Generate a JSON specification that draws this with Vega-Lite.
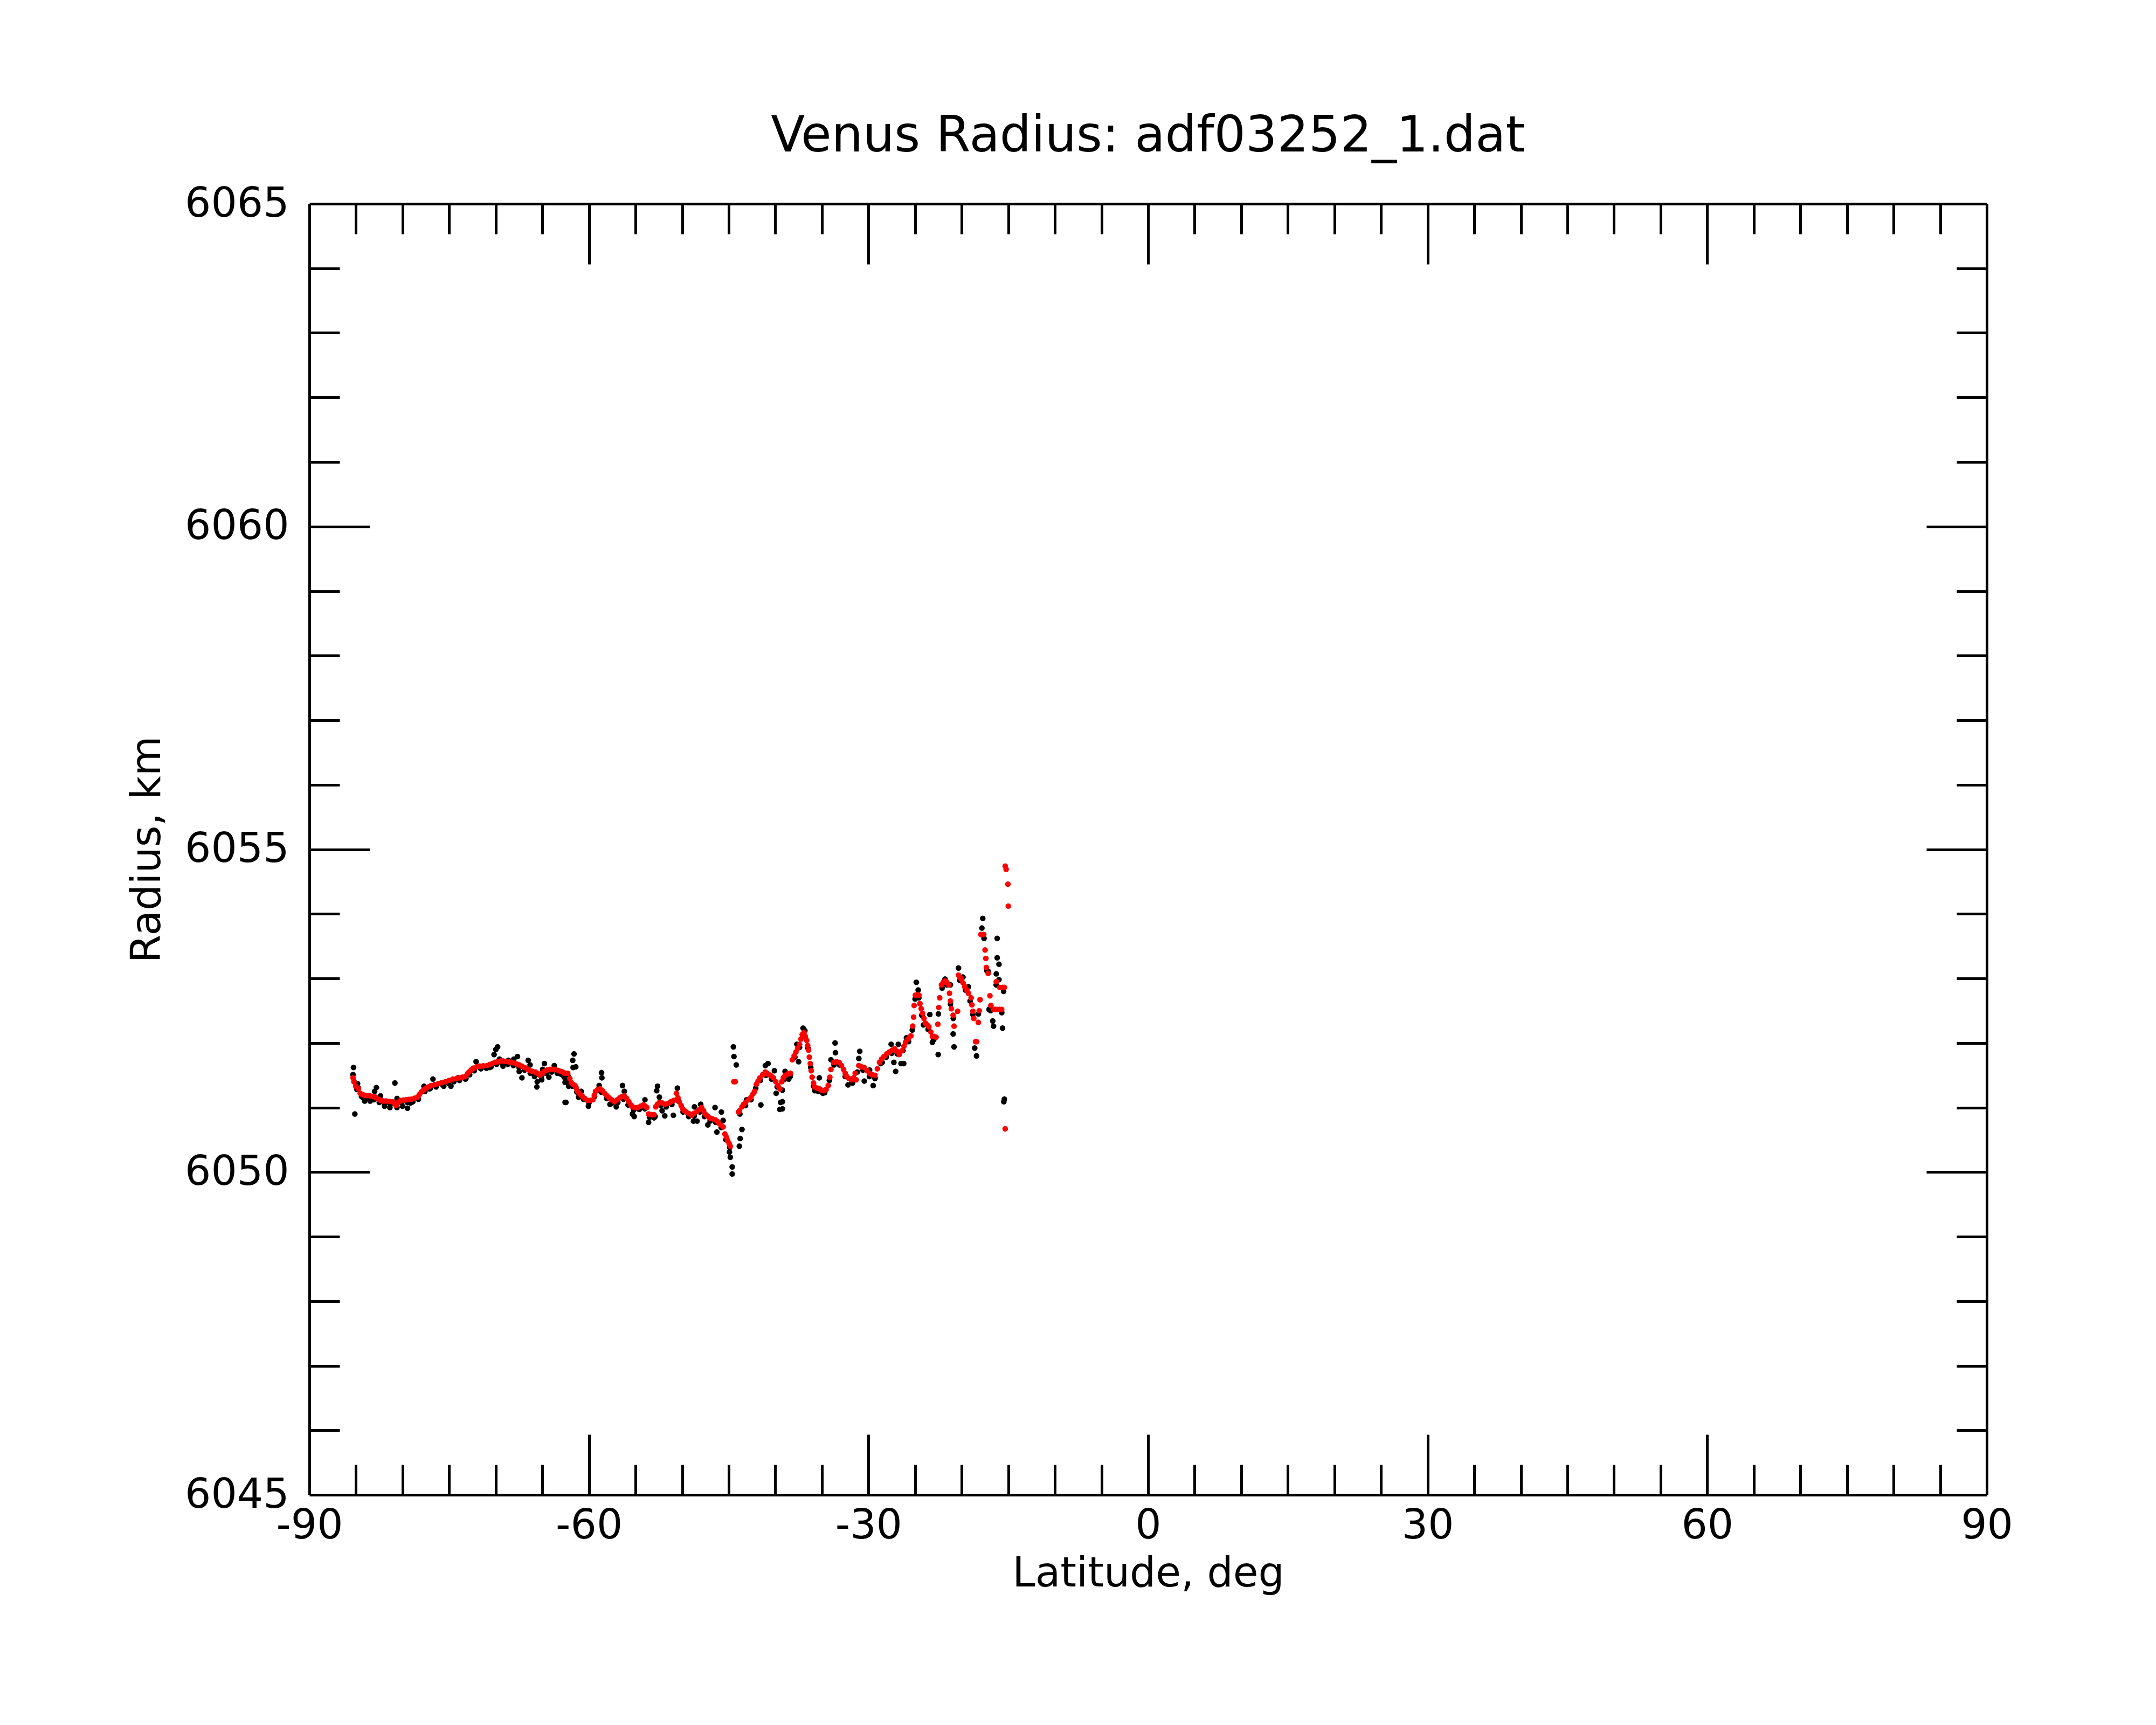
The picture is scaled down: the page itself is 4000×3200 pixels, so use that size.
{
  "$schema": "https://vega.github.io/schema/vega-lite/v6.json",
  "width": 3112,
  "height": 2395,
  "autosize": {"type": "none"},
  "padding": {"left": 574, "top": 378, "right": 314, "bottom": 427},
  "background": "white",
  "title": {
    "text": "Venus Radius: adf03252_1.dat",
    "font": "DejaVu Sans",
    "fontSize": 92,
    "fontWeight": "normal",
    "color": "black",
    "anchor": "middle",
    "frame": "group",
    "offset": 40
  },
  "config": {
    "view": {"stroke": null},
    "font": "DejaVu Sans",
    "axis": {
      "grid": false,
      "domainColor": "black",
      "domainWidth": 5,
      "tickColor": "black",
      "tickWidth": 5,
      "labelColor": "black",
      "labelFont": "DejaVu Sans",
      "labelFontSize": 76,
      "labelLimit": 0,
      "titleColor": "black",
      "titleFont": "DejaVu Sans",
      "titleFontSize": 76,
      "titleFontWeight": "normal",
      "titleLimit": 0,
      "labelFlush": false,
      "labelOverlap": false,
      "labelBound": false
    }
  },
  "datasets": {
    "black": [
      {"lat": -85.26, "radius": 6051.62}, {"lat": -85.32, "radius": 6051.51}, {"lat": -85.12, "radius": 6050.9},
      {"lat": -84.83, "radius": 6051.37}, {"lat": -84.74, "radius": 6051.3}, {"lat": -84.25, "radius": 6051.15},
      {"lat": -84.06, "radius": 6051.1}, {"lat": -83.48, "radius": 6051.1}, {"lat": -83.0, "radius": 6051.25},
      {"lat": -82.81, "radius": 6051.31}, {"lat": -82.37, "radius": 6051.18}, {"lat": -81.94, "radius": 6051.02},
      {"lat": -81.36, "radius": 6051.0}, {"lat": -80.82, "radius": 6051.38}, {"lat": -80.59, "radius": 6051.14},
      {"lat": -80.01, "radius": 6051.02}, {"lat": -79.47, "radius": 6050.99}, {"lat": -79.14, "radius": 6051.07},
      {"lat": -77.7, "radius": 6051.33}, {"lat": -77.12, "radius": 6051.29}, {"lat": -76.74, "radius": 6051.44},
      {"lat": -75.58, "radius": 6051.33}, {"lat": -74.81, "radius": 6051.33}, {"lat": -74.04, "radius": 6051.46},
      {"lat": -73.26, "radius": 6051.44}, {"lat": -72.11, "radius": 6051.71}, {"lat": -71.53, "radius": 6051.62},
      {"lat": -70.66, "radius": 6051.62}, {"lat": -70.18, "radius": 6051.82}, {"lat": -69.99, "radius": 6051.9},
      {"lat": -69.8, "radius": 6051.94}, {"lat": -69.6, "radius": 6051.75}, {"lat": -69.22, "radius": 6051.64},
      {"lat": -68.64, "radius": 6051.73}, {"lat": -68.06, "radius": 6051.75}, {"lat": -67.67, "radius": 6051.79},
      {"lat": -67.48, "radius": 6051.56}, {"lat": -67.19, "radius": 6051.46}, {"lat": -66.52, "radius": 6051.73},
      {"lat": -66.32, "radius": 6051.66}, {"lat": -65.84, "radius": 6051.48}, {"lat": -65.55, "radius": 6051.4},
      {"lat": -65.59, "radius": 6051.32}, {"lat": -65.07, "radius": 6051.43}, {"lat": -64.78, "radius": 6051.68},
      {"lat": -64.97, "radius": 6051.59}, {"lat": -64.3, "radius": 6051.47}, {"lat": -63.72, "radius": 6051.65},
      {"lat": -63.04, "radius": 6051.52}, {"lat": -62.56, "radius": 6051.39}, {"lat": -62.56, "radius": 6051.08},
      {"lat": -62.66, "radius": 6051.47}, {"lat": -62.37, "radius": 6051.4}, {"lat": -62.18, "radius": 6051.33},
      {"lat": -62.47, "radius": 6051.08}, {"lat": -61.7, "radius": 6051.62}, {"lat": -61.74, "radius": 6051.73},
      {"lat": -61.6, "radius": 6051.83}, {"lat": -61.41, "radius": 6051.63}, {"lat": -60.83, "radius": 6051.25},
      {"lat": -61.12, "radius": 6051.16}, {"lat": -60.06, "radius": 6051.02}, {"lat": -58.9, "radius": 6051.34},
      {"lat": -58.61, "radius": 6051.46}, {"lat": -58.65, "radius": 6051.54}, {"lat": -57.74, "radius": 6051.05},
      {"lat": -57.07, "radius": 6051.01}, {"lat": -56.4, "radius": 6051.34}, {"lat": -56.2, "radius": 6051.25},
      {"lat": -55.33, "radius": 6050.9}, {"lat": -55.14, "radius": 6050.86}, {"lat": -53.99, "radius": 6051.12},
      {"lat": -53.6, "radius": 6050.77}, {"lat": -53.02, "radius": 6050.84}, {"lat": -52.64, "radius": 6051.33},
      {"lat": -52.73, "radius": 6051.26}, {"lat": -52.44, "radius": 6051.16}, {"lat": -52.15, "radius": 6050.95},
      {"lat": -51.86, "radius": 6050.87}, {"lat": -50.94, "radius": 6050.88}, {"lat": -50.51, "radius": 6051.3},
      {"lat": -48.68, "radius": 6051.01}, {"lat": -48.78, "radius": 6050.79}, {"lat": -48.4, "radius": 6050.79},
      {"lat": -48.01, "radius": 6051.05}, {"lat": -47.24, "radius": 6050.73}, {"lat": -46.47, "radius": 6051.0},
      {"lat": -46.27, "radius": 6050.62}, {"lat": -45.79, "radius": 6050.93}, {"lat": -45.6, "radius": 6050.8},
      {"lat": -44.92, "radius": 6050.31}, {"lat": -44.83, "radius": 6050.23}, {"lat": -44.63, "radius": 6050.08},
      {"lat": -44.63, "radius": 6049.97}, {"lat": -44.5, "radius": 6051.94}, {"lat": -44.44, "radius": 6051.79},
      {"lat": -44.19, "radius": 6051.66}, {"lat": -43.86, "radius": 6050.4}, {"lat": -43.77, "radius": 6050.52},
      {"lat": -43.58, "radius": 6050.66}, {"lat": -43.09, "radius": 6051.12}, {"lat": -41.55, "radius": 6051.04},
      {"lat": -41.07, "radius": 6051.65}, {"lat": -40.78, "radius": 6051.68}, {"lat": -40.1, "radius": 6051.57},
      {"lat": -39.91, "radius": 6051.22}, {"lat": -39.43, "radius": 6051.08}, {"lat": -39.52, "radius": 6050.97},
      {"lat": -39.24, "radius": 6051.27}, {"lat": -39.24, "radius": 6051.09}, {"lat": -39.24, "radius": 6050.98},
      {"lat": -38.95, "radius": 6051.56}, {"lat": -38.56, "radius": 6051.44}, {"lat": -37.69, "radius": 6051.98},
      {"lat": -37.5, "radius": 6051.71}, {"lat": -37.02, "radius": 6052.23}, {"lat": -36.83, "radius": 6052.19},
      {"lat": -35.77, "radius": 6051.26}, {"lat": -35.28, "radius": 6051.46}, {"lat": -34.7, "radius": 6051.23},
      {"lat": -34.03, "radius": 6051.74}, {"lat": -33.59, "radius": 6052.0}, {"lat": -33.55, "radius": 6051.85},
      {"lat": -32.97, "radius": 6051.65}, {"lat": -32.2, "radius": 6051.35}, {"lat": -31.72, "radius": 6051.38},
      {"lat": -30.94, "radius": 6051.87}, {"lat": -31.04, "radius": 6051.76}, {"lat": -30.46, "radius": 6051.41},
      {"lat": -29.88, "radius": 6051.58}, {"lat": -29.5, "radius": 6051.34}, {"lat": -29.31, "radius": 6051.46},
      {"lat": -28.53, "radius": 6051.7}, {"lat": -27.57, "radius": 6051.98}, {"lat": -27.28, "radius": 6051.7},
      {"lat": -27.09, "radius": 6051.56}, {"lat": -26.8, "radius": 6051.98}, {"lat": -26.51, "radius": 6051.68},
      {"lat": -26.22, "radius": 6051.68}, {"lat": -25.93, "radius": 6052.08}, {"lat": -24.87, "radius": 6052.94},
      {"lat": -24.67, "radius": 6052.82}, {"lat": -24.29, "radius": 6052.43}, {"lat": -24.1, "radius": 6052.28},
      {"lat": -23.42, "radius": 6052.44}, {"lat": -23.14, "radius": 6052.01}, {"lat": -22.52, "radius": 6051.82},
      {"lat": -21.79, "radius": 6052.99}, {"lat": -21.21, "radius": 6052.9}, {"lat": -20.92, "radius": 6052.14},
      {"lat": -20.82, "radius": 6051.94}, {"lat": -20.34, "radius": 6053.16}, {"lat": -19.86, "radius": 6053.02},
      {"lat": -19.28, "radius": 6052.87}, {"lat": -18.6, "radius": 6051.92}, {"lat": -18.41, "radius": 6051.8},
      {"lat": -17.74, "radius": 6053.93}, {"lat": -17.83, "radius": 6053.78}, {"lat": -17.16, "radius": 6053.11},
      {"lat": -17.06, "radius": 6052.52}, {"lat": -16.67, "radius": 6052.34}, {"lat": -16.58, "radius": 6052.26},
      {"lat": -16.19, "radius": 6053.62}, {"lat": -16.19, "radius": 6053.32}, {"lat": -16.0, "radius": 6053.22},
      {"lat": -16.29, "radius": 6053.07}, {"lat": -16.0, "radius": 6052.98}, {"lat": -15.62, "radius": 6052.23},
      {"lat": -15.48, "radius": 6051.09}, {"lat": -15.42, "radius": 6051.13},
      {"lat": -85.2, "radius": 6051.4}, {"lat": -84.9, "radius": 6051.28}, {"lat": -84.4, "radius": 6051.17},
      {"lat": -83.7, "radius": 6051.14}, {"lat": -83.1, "radius": 6051.12}, {"lat": -82.5, "radius": 6051.08},
      {"lat": -81.9, "radius": 6051.06}, {"lat": -81.3, "radius": 6051.05}, {"lat": -80.6, "radius": 6051.0},
      {"lat": -80.1, "radius": 6051.07}, {"lat": -79.5, "radius": 6051.08}, {"lat": -78.9, "radius": 6051.09},
      {"lat": -78.3, "radius": 6051.13}, {"lat": -77.6, "radius": 6051.25}, {"lat": -77.0, "radius": 6051.3},
      {"lat": -76.4, "radius": 6051.32}, {"lat": -75.7, "radius": 6051.35}, {"lat": -75.1, "radius": 6051.38},
      {"lat": -74.5, "radius": 6051.4}, {"lat": -73.9, "radius": 6051.42}, {"lat": -73.2, "radius": 6051.45},
      {"lat": -72.8, "radius": 6051.51}, {"lat": -72.3, "radius": 6051.57}, {"lat": -71.6, "radius": 6051.6},
      {"lat": -71.0, "radius": 6051.61}, {"lat": -70.5, "radius": 6051.63}, {"lat": -69.9, "radius": 6051.67},
      {"lat": -69.3, "radius": 6051.68}, {"lat": -68.7, "radius": 6051.67}, {"lat": -68.1, "radius": 6051.65},
      {"lat": -67.5, "radius": 6051.62}, {"lat": -66.9, "radius": 6051.58}, {"lat": -66.3, "radius": 6051.53},
      {"lat": -65.7, "radius": 6051.51}, {"lat": -65.1, "radius": 6051.48}, {"lat": -64.6, "radius": 6051.53},
      {"lat": -64.0, "radius": 6051.55}, {"lat": -63.4, "radius": 6051.53}, {"lat": -62.9, "radius": 6051.51},
      {"lat": -62.2, "radius": 6051.48}, {"lat": -61.8, "radius": 6051.33}, {"lat": -61.3, "radius": 6051.24},
      {"lat": -60.6, "radius": 6051.13}, {"lat": -60.0, "radius": 6051.07}, {"lat": -59.4, "radius": 6051.17},
      {"lat": -58.7, "radius": 6051.24}, {"lat": -58.1, "radius": 6051.14}, {"lat": -57.5, "radius": 6051.07},
      {"lat": -56.9, "radius": 6051.08}, {"lat": -56.3, "radius": 6051.13}, {"lat": -55.8, "radius": 6051.04},
      {"lat": -55.2, "radius": 6050.96}, {"lat": -54.6, "radius": 6050.97}, {"lat": -54.0, "radius": 6050.98},
      {"lat": -53.5, "radius": 6050.85}, {"lat": -52.9, "radius": 6050.86}, {"lat": -52.3, "radius": 6051.03},
      {"lat": -51.7, "radius": 6051.01}, {"lat": -51.1, "radius": 6051.05}, {"lat": -50.4, "radius": 6051.1},
      {"lat": -49.9, "radius": 6050.93}, {"lat": -49.3, "radius": 6050.86}, {"lat": -48.7, "radius": 6050.87},
      {"lat": -48.1, "radius": 6050.93}, {"lat": -47.6, "radius": 6050.86}, {"lat": -47.0, "radius": 6050.79},
      {"lat": -46.4, "radius": 6050.77}, {"lat": -45.8, "radius": 6050.69}, {"lat": -45.3, "radius": 6050.5},
      {"lat": -44.9, "radius": 6050.38}, {"lat": -43.8, "radius": 6050.9}, {"lat": -43.2, "radius": 6051.03},
      {"lat": -42.6, "radius": 6051.12}, {"lat": -42.1, "radius": 6051.3}, {"lat": -41.6, "radius": 6051.42},
      {"lat": -41.0, "radius": 6051.5}, {"lat": -40.4, "radius": 6051.44}, {"lat": -39.8, "radius": 6051.32},
      {"lat": -39.0, "radius": 6051.44}, {"lat": -38.4, "radius": 6051.48}, {"lat": -37.9, "radius": 6051.78},
      {"lat": -37.4, "radius": 6051.93}, {"lat": -36.9, "radius": 6052.12}, {"lat": -36.5, "radius": 6051.92},
      {"lat": -36.2, "radius": 6051.62}, {"lat": -35.9, "radius": 6051.33}, {"lat": -35.4, "radius": 6051.25},
      {"lat": -34.9, "radius": 6051.22}, {"lat": -34.2, "radius": 6051.42}, {"lat": -33.7, "radius": 6051.66},
      {"lat": -33.1, "radius": 6051.66}, {"lat": -32.5, "radius": 6051.48}, {"lat": -31.8, "radius": 6051.39},
      {"lat": -31.2, "radius": 6051.55}, {"lat": -30.6, "radius": 6051.58}, {"lat": -29.9, "radius": 6051.48},
      {"lat": -29.3, "radius": 6051.45}, {"lat": -28.7, "radius": 6051.68}, {"lat": -28.1, "radius": 6051.78},
      {"lat": -27.5, "radius": 6051.84}, {"lat": -26.9, "radius": 6051.83}, {"lat": -26.3, "radius": 6051.88},
      {"lat": -25.7, "radius": 6052.02}, {"lat": -25.3, "radius": 6052.2}, {"lat": -25.0, "radius": 6052.68},
      {"lat": -24.6, "radius": 6052.7}, {"lat": -24.2, "radius": 6052.42}, {"lat": -23.6, "radius": 6052.21},
      {"lat": -23.0, "radius": 6052.05}, {"lat": -22.5, "radius": 6052.45}, {"lat": -22.1, "radius": 6052.85},
      {"lat": -21.6, "radius": 6052.9}, {"lat": -21.2, "radius": 6052.6}, {"lat": -20.9, "radius": 6052.38},
      {"lat": -20.2, "radius": 6052.97}, {"lat": -19.6, "radius": 6052.82}, {"lat": -19.1, "radius": 6052.65},
      {"lat": -18.8, "radius": 6052.44}, {"lat": -18.2, "radius": 6052.45}, {"lat": -17.6, "radius": 6053.62},
      {"lat": -17.3, "radius": 6053.12}, {"lat": -16.9, "radius": 6052.5}, {"lat": -16.3, "radius": 6052.9},
      {"lat": -15.7, "radius": 6052.47}, {"lat": -15.5, "radius": 6052.8}
    ],
    "red": [
      {"lat": -85.32, "radius": 6051.46}, {"lat": -85.22, "radius": 6051.4}, {"lat": -85.03, "radius": 6051.33},
      {"lat": -84.74, "radius": 6051.29}, {"lat": -84.54, "radius": 6051.22}, {"lat": -84.3, "radius": 6051.2},
      {"lat": -84.06, "radius": 6051.19}, {"lat": -83.8, "radius": 6051.185}, {"lat": -83.48, "radius": 6051.18},
      {"lat": -83.2, "radius": 6051.17}, {"lat": -82.9, "radius": 6051.16}, {"lat": -82.6, "radius": 6051.13},
      {"lat": -82.33, "radius": 6051.11}, {"lat": -82.05, "radius": 6051.1}, {"lat": -81.75, "radius": 6051.1},
      {"lat": -81.4, "radius": 6051.095}, {"lat": -81.07, "radius": 6051.09}, {"lat": -80.85, "radius": 6051.06},
      {"lat": -80.69, "radius": 6051.03}, {"lat": -80.45, "radius": 6051.08}, {"lat": -80.21, "radius": 6051.11},
      {"lat": -79.9, "radius": 6051.115}, {"lat": -79.63, "radius": 6051.12}, {"lat": -79.35, "radius": 6051.125},
      {"lat": -79.05, "radius": 6051.13}, {"lat": -78.7, "radius": 6051.145}, {"lat": -78.4, "radius": 6051.16},
      {"lat": -78.2, "radius": 6051.2}, {"lat": -77.99, "radius": 6051.24}, {"lat": -77.75, "radius": 6051.27},
      {"lat": -77.51, "radius": 6051.3}, {"lat": -77.2, "radius": 6051.32}, {"lat": -76.93, "radius": 6051.34},
      {"lat": -76.55, "radius": 6051.355}, {"lat": -76.16, "radius": 6051.37}, {"lat": -75.8, "radius": 6051.385},
      {"lat": -75.39, "radius": 6051.4}, {"lat": -75.0, "radius": 6051.42}, {"lat": -74.61, "radius": 6051.44},
      {"lat": -74.2, "radius": 6051.45}, {"lat": -73.84, "radius": 6051.46}, {"lat": -73.55, "radius": 6051.47},
      {"lat": -73.26, "radius": 6051.48}, {"lat": -73.05, "radius": 6051.52}, {"lat": -72.88, "radius": 6051.55},
      {"lat": -72.65, "radius": 6051.58}, {"lat": -72.4, "radius": 6051.61}, {"lat": -72.05, "radius": 6051.63},
      {"lat": -71.72, "radius": 6051.64}, {"lat": -71.35, "radius": 6051.645}, {"lat": -70.95, "radius": 6051.65},
      {"lat": -70.65, "radius": 6051.665}, {"lat": -70.37, "radius": 6051.68}, {"lat": -70.1, "radius": 6051.7},
      {"lat": -69.8, "radius": 6051.71}, {"lat": -69.5, "radius": 6051.72}, {"lat": -69.22, "radius": 6051.72},
      {"lat": -68.95, "radius": 6051.715}, {"lat": -68.64, "radius": 6051.71}, {"lat": -68.35, "radius": 6051.7},
      {"lat": -68.06, "radius": 6051.69}, {"lat": -67.75, "radius": 6051.675}, {"lat": -67.48, "radius": 6051.66},
      {"lat": -67.2, "radius": 6051.64}, {"lat": -66.9, "radius": 6051.62}, {"lat": -66.6, "radius": 6051.595},
      {"lat": -66.32, "radius": 6051.57}, {"lat": -66.05, "radius": 6051.56}, {"lat": -65.75, "radius": 6051.55},
      {"lat": -65.5, "radius": 6051.53}, {"lat": -65.26, "radius": 6051.5}, {"lat": -65.0, "radius": 6051.53},
      {"lat": -64.78, "radius": 6051.56}, {"lat": -64.5, "radius": 6051.58}, {"lat": -64.2, "radius": 6051.59},
      {"lat": -63.9, "radius": 6051.59}, {"lat": -63.62, "radius": 6051.59}, {"lat": -63.3, "radius": 6051.575},
      {"lat": -63.04, "radius": 6051.56}, {"lat": -62.8, "radius": 6051.55}, {"lat": -62.56, "radius": 6051.53},
      {"lat": -62.28, "radius": 6051.53}, {"lat": -62.05, "radius": 6051.45}, {"lat": -61.89, "radius": 6051.385},
      {"lat": -61.7, "radius": 6051.36}, {"lat": -61.5, "radius": 6051.34}, {"lat": -61.35, "radius": 6051.3},
      {"lat": -61.22, "radius": 6051.25}, {"lat": -60.98, "radius": 6051.21}, {"lat": -60.73, "radius": 6051.18},
      {"lat": -60.45, "radius": 6051.14}, {"lat": -60.16, "radius": 6051.11}, {"lat": -59.85, "radius": 6051.11},
      {"lat": -59.58, "radius": 6051.12}, {"lat": -59.42, "radius": 6051.19}, {"lat": -59.29, "radius": 6051.25},
      {"lat": -59.05, "radius": 6051.28}, {"lat": -58.81, "radius": 6051.29}, {"lat": -58.55, "radius": 6051.26},
      {"lat": -58.32, "radius": 6051.22}, {"lat": -58.08, "radius": 6051.185}, {"lat": -57.84, "radius": 6051.15},
      {"lat": -57.55, "radius": 6051.12}, {"lat": -57.26, "radius": 6051.09}, {"lat": -56.95, "radius": 6051.12},
      {"lat": -56.68, "radius": 6051.15}, {"lat": -56.45, "radius": 6051.17}, {"lat": -56.2, "radius": 6051.18},
      {"lat": -55.95, "radius": 6051.14}, {"lat": -55.72, "radius": 6051.09}, {"lat": -55.5, "radius": 6051.04},
      {"lat": -55.33, "radius": 6051.01}, {"lat": -55.05, "radius": 6051.0}, {"lat": -54.76, "radius": 6051.0},
      {"lat": -54.45, "radius": 6051.02}, {"lat": -54.17, "radius": 6051.04}, {"lat": -53.95, "radius": 6051.02},
      {"lat": -53.79, "radius": 6051.0}, {"lat": -53.6, "radius": 6050.9}, {"lat": -53.3, "radius": 6050.89},
      {"lat": -53.02, "radius": 6050.89}, {"lat": -52.83, "radius": 6051.01}, {"lat": -52.65, "radius": 6051.05},
      {"lat": -52.44, "radius": 6051.08}, {"lat": -52.15, "radius": 6051.07}, {"lat": -51.86, "radius": 6051.05},
      {"lat": -51.48, "radius": 6051.065}, {"lat": -51.2, "radius": 6051.09}, {"lat": -50.9, "radius": 6051.11},
      {"lat": -50.61, "radius": 6051.22}, {"lat": -50.45, "radius": 6051.15}, {"lat": -50.32, "radius": 6051.09},
      {"lat": -50.1, "radius": 6051.03}, {"lat": -49.94, "radius": 6050.98}, {"lat": -49.75, "radius": 6050.95},
      {"lat": -49.55, "radius": 6050.93}, {"lat": -49.25, "radius": 6050.905}, {"lat": -48.97, "radius": 6050.88},
      {"lat": -48.7, "radius": 6050.91}, {"lat": -48.4, "radius": 6050.94}, {"lat": -48.15, "radius": 6050.97},
      {"lat": -47.91, "radius": 6051.0}, {"lat": -47.7, "radius": 6050.95}, {"lat": -47.53, "radius": 6050.9},
      {"lat": -47.3, "radius": 6050.87}, {"lat": -47.05, "radius": 6050.84}, {"lat": -46.75, "radius": 6050.825},
      {"lat": -46.47, "radius": 6050.81}, {"lat": -46.25, "radius": 6050.79}, {"lat": -46.08, "radius": 6050.76},
      {"lat": -45.85, "radius": 6050.73}, {"lat": -45.6, "radius": 6050.7}, {"lat": -45.41, "radius": 6050.59},
      {"lat": -45.25, "radius": 6050.54}, {"lat": -45.12, "radius": 6050.49}, {"lat": -44.95, "radius": 6050.44},
      {"lat": -44.83, "radius": 6050.4}, {"lat": -44.45, "radius": 6051.4}, {"lat": -44.3, "radius": 6051.4},
      {"lat": -43.96, "radius": 6050.93}, {"lat": -43.85, "radius": 6050.95}, {"lat": -43.58, "radius": 6051.01},
      {"lat": -43.4, "radius": 6051.05}, {"lat": -43.19, "radius": 6051.08}, {"lat": -42.9, "radius": 6051.12},
      {"lat": -42.61, "radius": 6051.16}, {"lat": -42.4, "radius": 6051.21}, {"lat": -42.22, "radius": 6051.25},
      {"lat": -42.03, "radius": 6051.36}, {"lat": -41.85, "radius": 6051.41}, {"lat": -41.65, "radius": 6051.46},
      {"lat": -41.35, "radius": 6051.51}, {"lat": -41.07, "radius": 6051.55}, {"lat": -40.88, "radius": 6051.53},
      {"lat": -40.68, "radius": 6051.51}, {"lat": -40.45, "radius": 6051.49}, {"lat": -40.2, "radius": 6051.46},
      {"lat": -39.95, "radius": 6051.4}, {"lat": -39.72, "radius": 6051.34}, {"lat": -39.52, "radius": 6051.29},
      {"lat": -39.3, "radius": 6051.4}, {"lat": -39.14, "radius": 6051.46}, {"lat": -38.95, "radius": 6051.5},
      {"lat": -38.65, "radius": 6051.52}, {"lat": -38.37, "radius": 6051.53}, {"lat": -38.18, "radius": 6051.74},
      {"lat": -37.98, "radius": 6051.8}, {"lat": -37.79, "radius": 6051.86}, {"lat": -37.6, "radius": 6051.92},
      {"lat": -37.4, "radius": 6051.98}, {"lat": -37.25, "radius": 6052.06}, {"lat": -37.11, "radius": 6052.13},
      {"lat": -36.92, "radius": 6052.16}, {"lat": -36.78, "radius": 6052.1}, {"lat": -36.63, "radius": 6052.04},
      {"lat": -36.53, "radius": 6051.96}, {"lat": -36.44, "radius": 6051.89}, {"lat": -36.35, "radius": 6051.78},
      {"lat": -36.25, "radius": 6051.68}, {"lat": -36.15, "radius": 6051.57}, {"lat": -36.05, "radius": 6051.47},
      {"lat": -35.9, "radius": 6051.38}, {"lat": -35.77, "radius": 6051.32}, {"lat": -35.5, "radius": 6051.3},
      {"lat": -35.28, "radius": 6051.29}, {"lat": -35.05, "radius": 6051.27}, {"lat": -34.8, "radius": 6051.26},
      {"lat": -34.55, "radius": 6051.28}, {"lat": -34.32, "radius": 6051.34}, {"lat": -34.15, "radius": 6051.47},
      {"lat": -34.03, "radius": 6051.59}, {"lat": -33.74, "radius": 6051.7}, {"lat": -33.45, "radius": 6051.71},
      {"lat": -33.16, "radius": 6051.7}, {"lat": -32.9, "radius": 6051.65}, {"lat": -32.68, "radius": 6051.59},
      {"lat": -32.5, "radius": 6051.53}, {"lat": -32.39, "radius": 6051.49}, {"lat": -32.1, "radius": 6051.45},
      {"lat": -31.81, "radius": 6051.43}, {"lat": -31.6, "radius": 6051.46}, {"lat": -31.43, "radius": 6051.53},
      {"lat": -31.33, "radius": 6051.43}, {"lat": -31.04, "radius": 6051.65}, {"lat": -30.75, "radius": 6051.63},
      {"lat": -30.46, "radius": 6051.62}, {"lat": -30.15, "radius": 6051.57}, {"lat": -29.88, "radius": 6051.53},
      {"lat": -29.6, "radius": 6051.51}, {"lat": -29.31, "radius": 6051.5}, {"lat": -29.05, "radius": 6051.6},
      {"lat": -28.82, "radius": 6051.7}, {"lat": -28.6, "radius": 6051.75}, {"lat": -28.34, "radius": 6051.79},
      {"lat": -28.05, "radius": 6051.83}, {"lat": -27.76, "radius": 6051.86}, {"lat": -27.45, "radius": 6051.89},
      {"lat": -27.19, "radius": 6051.91}, {"lat": -26.95, "radius": 6051.87}, {"lat": -26.7, "radius": 6051.82},
      {"lat": -26.41, "radius": 6051.88}, {"lat": -26.2, "radius": 6051.95}, {"lat": -26.03, "radius": 6052.01},
      {"lat": -25.75, "radius": 6052.06}, {"lat": -25.45, "radius": 6052.11}, {"lat": -25.26, "radius": 6052.26},
      {"lat": -25.16, "radius": 6052.4}, {"lat": -25.1, "radius": 6052.58}, {"lat": -24.97, "radius": 6052.74},
      {"lat": -24.78, "radius": 6052.75}, {"lat": -24.58, "radius": 6052.74}, {"lat": -24.48, "radius": 6052.61},
      {"lat": -24.35, "radius": 6052.53}, {"lat": -24.2, "radius": 6052.46}, {"lat": -24.05, "radius": 6052.38},
      {"lat": -23.91, "radius": 6052.31}, {"lat": -23.7, "radius": 6052.28}, {"lat": -23.52, "radius": 6052.25},
      {"lat": -23.3, "radius": 6052.17}, {"lat": -23.14, "radius": 6052.1}, {"lat": -22.95, "radius": 6052.1},
      {"lat": -22.75, "radius": 6052.09}, {"lat": -22.56, "radius": 6052.29}, {"lat": -22.46, "radius": 6052.55},
      {"lat": -22.36, "radius": 6052.7}, {"lat": -22.17, "radius": 6052.9}, {"lat": -21.98, "radius": 6052.94},
      {"lat": -21.79, "radius": 6052.96}, {"lat": -21.6, "radius": 6052.94}, {"lat": -21.4, "radius": 6052.9},
      {"lat": -21.31, "radius": 6052.77}, {"lat": -21.21, "radius": 6052.65}, {"lat": -21.11, "radius": 6052.53},
      {"lat": -20.92, "radius": 6052.43}, {"lat": -20.82, "radius": 6052.26}, {"lat": -20.44, "radius": 6052.49},
      {"lat": -20.34, "radius": 6053.05}, {"lat": -20.2, "radius": 6053.02}, {"lat": -20.05, "radius": 6052.99},
      {"lat": -19.85, "radius": 6052.93}, {"lat": -19.67, "radius": 6052.87}, {"lat": -19.45, "radius": 6052.82},
      {"lat": -19.28, "radius": 6052.77}, {"lat": -18.99, "radius": 6052.7}, {"lat": -18.9, "radius": 6052.59},
      {"lat": -18.8, "radius": 6052.49}, {"lat": -18.7, "radius": 6052.38}, {"lat": -18.51, "radius": 6052.02},
      {"lat": -18.4, "radius": 6052.02}, {"lat": -18.22, "radius": 6052.32}, {"lat": -18.12, "radius": 6052.5},
      {"lat": -18.03, "radius": 6052.67}, {"lat": -17.93, "radius": 6053.68}, {"lat": -17.64, "radius": 6053.68},
      {"lat": -17.49, "radius": 6053.44}, {"lat": -17.41, "radius": 6053.31}, {"lat": -17.35, "radius": 6053.17},
      {"lat": -17.16, "radius": 6053.08}, {"lat": -16.97, "radius": 6052.73}, {"lat": -16.87, "radius": 6052.58},
      {"lat": -16.58, "radius": 6052.52}, {"lat": -16.4, "radius": 6052.52}, {"lat": -16.19, "radius": 6052.52},
      {"lat": -15.95, "radius": 6052.52}, {"lat": -15.71, "radius": 6052.52}, {"lat": -16.29, "radius": 6052.95},
      {"lat": -15.91, "radius": 6052.86}, {"lat": -15.6, "radius": 6052.86}, {"lat": -15.42, "radius": 6052.86},
      {"lat": -15.33, "radius": 6054.74}, {"lat": -15.23, "radius": 6054.69}, {"lat": -15.04, "radius": 6054.46},
      {"lat": -15.0, "radius": 6054.12}, {"lat": -15.33, "radius": 6050.67}
    ]
  },
  "resolve": {"axis": {"x": "independent", "y": "independent"}},
  "layer": [
    {
      "data": {"name": "black"},
      "mark": {"type": "circle", "color": "black", "size": 110, "opacity": 1},
      "encoding": {
        "x": {
          "field": "lat",
          "type": "quantitative",
          "scale": {"domain": [-90, 90], "nice": false, "zero": false},
          "axis": {
            "orient": "bottom",
            "values": [-90, -60, -30, 0, 30, 60, 90],
            "labelExpr": "'' + datum.value",
            "ticks": false,
            "domain": true,
            "labelPadding": 20,
            "title": "Latitude, deg",
            "titlePadding": 14
          }
        },
        "y": {
          "field": "radius",
          "type": "quantitative",
          "scale": {"domain": [6045, 6065], "nice": false, "zero": false},
          "axis": {
            "orient": "left",
            "values": [6045, 6050, 6055, 6060, 6065],
            "format": "d",
            "ticks": false,
            "domain": true,
            "labelPadding": 38,
            "title": "Radius, km",
            "titlePadding": 62
          }
        }
      }
    },
    {
      "data": {"name": "red"},
      "mark": {"type": "circle", "color": "red", "size": 110, "opacity": 1},
      "encoding": {
        "x": {
          "field": "lat",
          "type": "quantitative",
          "axis": {
            "orient": "bottom",
            "values": [-60, -30, 0, 30, 60],
            "offset": -112,
            "tickSize": 112,
            "labels": false,
            "domain": false,
            "title": null
          }
        },
        "y": {
          "field": "radius",
          "type": "quantitative",
          "axis": {
            "orient": "left",
            "values": [6050, 6055, 6060],
            "offset": -112,
            "tickSize": 112,
            "labels": false,
            "domain": false,
            "title": null
          }
        }
      }
    },
    {
      "data": {"name": "red"},
      "mark": {"type": "circle", "opacity": 0},
      "encoding": {
        "x": {
          "field": "lat",
          "type": "quantitative",
          "axis": {
            "orient": "bottom",
            "values": [-85, -80, -75, -70, -65, -55, -50, -45, -40, -35, -25, -20, -15, -10, -5, 5, 10, 15, 20, 25, 35, 40, 45, 50, 55, 65, 70, 75, 80, 85],
            "offset": -56,
            "tickSize": 56,
            "labels": false,
            "domain": false,
            "title": null
          }
        },
        "y": {
          "field": "radius",
          "type": "quantitative",
          "axis": {
            "orient": "left",
            "values": [6046, 6047, 6048, 6049, 6051, 6052, 6053, 6054, 6056, 6057, 6058, 6059, 6061, 6062, 6063, 6064],
            "offset": -56,
            "tickSize": 56,
            "labels": false,
            "domain": false,
            "title": null
          }
        }
      }
    },
    {
      "data": {"name": "red"},
      "mark": {"type": "circle", "opacity": 0},
      "encoding": {
        "x": {
          "field": "lat",
          "type": "quantitative",
          "axis": {
            "orient": "top",
            "values": [-60, -30, 0, 30, 60],
            "tickSize": 112,
            "offset": -112,
            "labels": false,
            "domain": false,
            "title": null
          }
        },
        "y": {
          "field": "radius",
          "type": "quantitative",
          "axis": {
            "orient": "right",
            "values": [6050, 6055, 6060],
            "tickSize": 112,
            "offset": -112,
            "labels": false,
            "domain": false,
            "title": null
          }
        }
      }
    },
    {
      "data": {"name": "red"},
      "mark": {"type": "circle", "opacity": 0},
      "encoding": {
        "x": {
          "field": "lat",
          "type": "quantitative",
          "axis": {
            "orient": "top",
            "values": [-85, -80, -75, -70, -65, -55, -50, -45, -40, -35, -25, -20, -15, -10, -5, 5, 10, 15, 20, 25, 35, 40, 45, 50, 55, 65, 70, 75, 80, 85],
            "tickSize": 56,
            "offset": -56,
            "labels": false,
            "domain": false,
            "title": null
          }
        },
        "y": {
          "field": "radius",
          "type": "quantitative",
          "axis": {
            "orient": "right",
            "values": [6046, 6047, 6048, 6049, 6051, 6052, 6053, 6054, 6056, 6057, 6058, 6059, 6061, 6062, 6063, 6064],
            "tickSize": 56,
            "offset": -56,
            "labels": false,
            "domain": false,
            "title": null
          }
        }
      }
    },
    {
      "data": {"name": "red"},
      "mark": {"type": "circle", "opacity": 0},
      "encoding": {
        "x": {
          "field": "lat",
          "type": "quantitative",
          "axis": {"orient": "top", "ticks": false, "labels": false, "domain": true, "title": null}
        },
        "y": {
          "field": "radius",
          "type": "quantitative",
          "axis": {"orient": "right", "ticks": false, "labels": false, "domain": true, "title": null}
        }
      }
    }
  ]
}
